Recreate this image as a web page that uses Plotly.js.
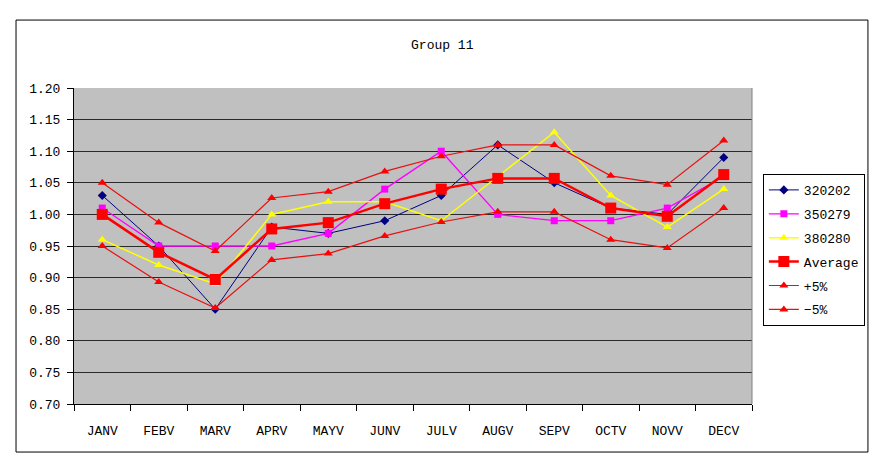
<!DOCTYPE html>
<html>
<head>
<meta charset="utf-8">
<script src="https://cdn.plot.ly/plotly-3.0.1.min.js"></script>
<style>html,body{margin:0;padding:0;background:#fff;}#chart{width:881px;height:464px;}</style>
</head>
<body>
<div id="chart"></div>
<script>
var months = ["JANV","FEBV","MARV","APRV","MAYV","JUNV","JULV","AUGV","SEPV","OCTV","NOVV","DECV"];
var s320202 = [1.03, 0.95, 0.85, 0.98, 0.97, 0.99, 1.03, 1.11, 1.05, 1.01, 1.00, 1.09];
var s350279 = [1.01, 0.95, 0.95, 0.95, 0.97, 1.04, 1.10, 1.00, 0.99, 0.99, 1.01, 1.06];
var s380280 = [0.96, 0.92, 0.89, 1.00, 1.02, 1.02, 0.99, 1.06, 1.13, 1.03, 0.98, 1.04];
var average = [1.000, 0.940, 0.897, 0.977, 0.987, 1.017, 1.040, 1.057, 1.057, 1.010, 0.997, 1.063];
var plus5   = [1.050, 0.987, 0.942, 1.026, 1.036, 1.068, 1.092, 1.110, 1.110, 1.061, 1.047, 1.117];
var minus5  = [0.950, 0.893, 0.852, 0.928, 0.938, 0.966, 0.988, 1.004, 1.004, 0.960, 0.947, 1.010];
var seriesNames = ["320202","350279","380280","Average","+5%","\u22125%"];

var FONT = "Liberation Mono, DejaVu Sans Mono, monospace";
var traces = [
  {x: months, y: s320202, name: seriesNames[0], legendgroup: "g1", type: "scatter", mode: "lines+markers",
   line: {color: "#000080", width: 1}, marker: {symbol: "diamond", size: 7, color: "#000080"}},
  {x: months, y: s350279, name: seriesNames[1], legendgroup: "g2", type: "scatter", mode: "lines+markers",
   line: {color: "#FF00FF", width: 1.3}, marker: {symbol: "square", size: 7, color: "#FF00FF"}},
  {x: months, y: s380280, name: seriesNames[2], legendgroup: "g3", type: "scatter", mode: "lines+markers",
   line: {color: "#FFFF00", width: 1.5}, marker: {symbol: "triangle-up", size: 8, color: "#FFFF00"}},
  {x: months, y: average, name: seriesNames[3], legendgroup: "g4", type: "scatter", mode: "lines+markers",
   line: {color: "#FF0000", width: 2.5}, marker: {symbol: "square", size: 11, color: "#FF0000"}},
  {x: months, y: plus5, name: seriesNames[4], legendgroup: "g5", type: "scatter", mode: "lines+markers",
   line: {color: "#E81010", width: 1.2}, marker: {symbol: "triangle-up", size: 8, color: "#FF0000"}},
  {x: months, y: minus5, name: seriesNames[5], legendgroup: "g6", type: "scatter", mode: "lines+markers",
   line: {color: "#E81010", width: 1.2}, marker: {symbol: "triangle-up", size: 8, color: "#FF0000"}}
];

var layout = {
  width: 881, height: 464,
  margin: {l: 74, r: 129, t: 88, b: 60},
  paper_bgcolor: "#ffffff",
  plot_bgcolor: "#C0C0C0",
  font: {family: FONT, size: 13, color: "#000"},
  title: {text: "Group 11", font: {family: FONT, size: 13, color: "#000"},
          xref: "container", x: 0.502, xanchor: "center",
          yref: "container", y: 0.905, yanchor: "middle"},
  showlegend: true,
  legend: {x: 1.016, xanchor: "left", y: 0.728, yanchor: "top",
           bgcolor: "#ffffff", bordercolor: "#000", borderwidth: 1,
           font: {family: FONT, size: 13, color: "#000"}, tracegroupgap: 4, itemwidth: 30},
  xaxis: {type: "category", range: [-0.5, 11.5], showgrid: false, showline: true, linecolor: "#000", linewidth: 1,
          ticks: "outside", ticklen: 6, tickcolor: "#000", tickson: "boundaries",
          ticklabelstandoff: 14, zeroline: false, fixedrange: true},
  yaxis: {range: [0.70, 1.20], dtick: 0.05, tick0: 0.70, tickformat: ".2f",
          showgrid: true, gridcolor: "#2a2a2a", gridwidth: 1,
          showline: true, linecolor: "#000", linewidth: 1,
          ticks: "outside", ticklen: 6, tickcolor: "#000", ticklabelstandoff: 4,
          zeroline: false, fixedrange: true},
  shapes: [
    {type: "rect", xref: "paper", yref: "paper", x0: -0.0855, x1: 1.171, y0: -0.152, y1: 1.215,
     line: {color: "#000", width: 1}, fillcolor: "rgba(0,0,0,0)", layer: "above"},
    {type: "line", xref: "paper", yref: "paper", x0: 1, x1: 1, y0: 0, y1: 1,
     line: {color: "#808080", width: 1}, layer: "above"}
  ]
};

Plotly.newPlot("chart", traces, layout, {displayModeBar: false, staticPlot: true});
</script>
</body>
</html>
